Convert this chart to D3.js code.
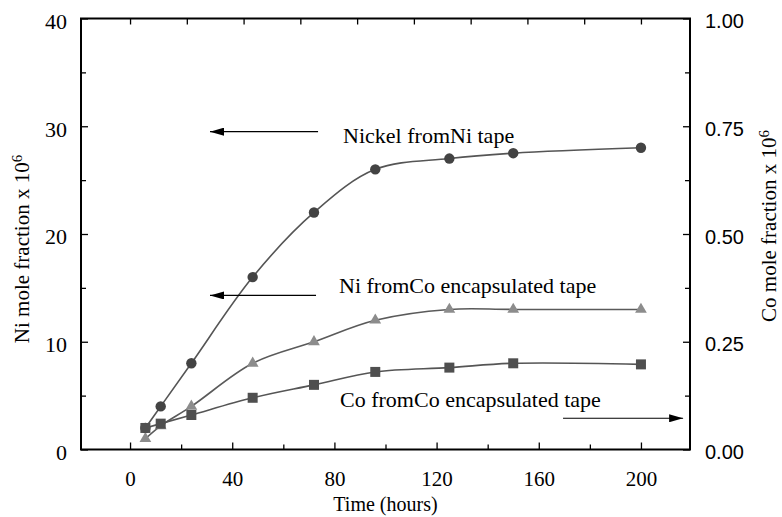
<html>

<script src="https://d3js.org/d3.v7.min.js"></script>

<style>
    body { margin: 0; background: #fff; }
    svg { display: block; }
    .serif { font-family: "Liberation Serif", "Times New Roman", serif; }
    .sans { font-family: "Liberation Sans", Arial, sans-serif; }
</style>

<svg width=782 height=517></svg>

<script>

    // data (time in hours, Ni mole fraction x 10^6 on left axis)
    let hours = [6, 12, 24, 48, 72, 96, 125, 150, 200];
    let niFromNi = [2, 4, 8, 16, 22, 26, 27, 27.5, 28];
    let niFromCo = [1, 2.2, 4, 8, 10, 12, 13, 13, 13];
    let coFromCo = [2, 2.4, 3.2, 4.8, 6, 7.2, 7.6, 8, 7.9];

    let xTicks = [0, 40, 80, 120, 160, 200];
    let xMinor = [20, 60, 100, 140, 180];
    let topTicks = d3.range(10).map(i => 200 * i / 9);
    let yTicks = [0, 10, 20, 30, 40];
    let yMinor = [5, 15, 25, 35];
    let y2Ticks = [0, 0.25, 0.5, 0.75, 1];
    let y2Minor = [0.125, 0.375, 0.625, 0.875];

    // annotation labels + arrows, in data units
    let notes = [
        { text: 'Nickel fromNi tape', tx: 83.4, ty: 28.4, ax0: 73.6, ax1: 31.3, ay: 29.5 },
        { text: 'Ni fromCo encapsulated tape', tx: 81.8, ty: 14.5, ax0: 72.8, ax1: 31.3, ay: 14.3 },
        { text: 'Co fromCo encapsulated tape', tx: 82.2, ty: 3.95, ax0: 169.5, ax1: 216.5, ay: 2.9 }
    ];

    let svg = d3.select('svg'),
        margin = { top: 18.5, right: 92, bottom: 67.5, left: 81 },
        width = +svg.attr('width') - margin.left - margin.right,
        height = +svg.attr('height') - margin.top - margin.bottom;

    let g = svg.append('g')
        .attr('transform', 'translate(' + margin.left + ',' + margin.top + ')');

    let x = d3.scaleLinear().domain([-19.2, 219.2]).range([0, width]);
    let y = d3.scaleLinear().domain([0, 40]).range([height, 0]);
    let y2 = d3.scaleLinear().domain([0, 1]).range([height, 0]);

    svg.append('defs').append('marker')
        .attr('id', 'arrow')
        .attr('viewBox', '0 0 14 8')
        .attr('refX', 14).attr('refY', 4)
        .attr('markerWidth', 14).attr('markerHeight', 8)
        .attr('markerUnits', 'userSpaceOnUse')
        .attr('orient', 'auto')
      .append('path')
        .attr('d', 'M0,0L14,4L0,8Z')
        .attr('fill', '#000');

    function styleAxis(sel) {
        sel.select('.domain').remove();
        sel.selectAll('line').attr('stroke', '#000').attr('stroke-width', 1.3);
    }

    // minor ticks (inward, no labels)
    g.append('g').attr('transform', 'translate(0,' + height + ')')
        .call(d3.axisBottom(x).tickValues(xMinor).tickSize(-5).tickFormat(''))
        .call(styleAxis);
    g.append('g')
        .call(d3.axisLeft(y).tickValues(yMinor).tickSize(-5).tickFormat(''))
        .call(styleAxis);
    g.append('g').attr('transform', 'translate(' + width + ',0)')
        .call(d3.axisRight(y2).tickValues(y2Minor).tickSize(-5).tickFormat(''))
        .call(styleAxis);
    g.append('g')
        .call(d3.axisTop(x).tickValues(topTicks).tickSize(-6).tickFormat(''))
        .call(styleAxis);

    // major axes
    let xAxis = g.append('g').attr('transform', 'translate(0,' + height + ')')
        .call(d3.axisBottom(x).tickValues(xTicks).tickSizeInner(-7).tickSizeOuter(0).tickPadding(22))
        .call(styleAxis);
    xAxis.selectAll('text').attr('class', 'serif').attr('font-size', 21).attr('fill', '#000');

    let yAxis = g.append('g')
        .call(d3.axisLeft(y).tickValues(yTicks).tickSizeInner(-7).tickSizeOuter(0).tickPadding(14))
        .call(styleAxis);
    yAxis.selectAll('text').attr('class', 'serif').attr('font-size', 22).attr('fill', '#000').attr('dy', '0.45em');

    let y2Axis = g.append('g').attr('transform', 'translate(' + width + ',0)')
        .call(d3.axisRight(y2).tickValues(y2Ticks).tickFormat(d3.format('.2f')).tickSizeInner(-7).tickSizeOuter(0).tickPadding(15))
        .call(styleAxis);
    y2Axis.selectAll('text').attr('class', 'sans').attr('font-size', 20).attr('fill', '#000').attr('dy', '0.45em');

    // frame
    g.append('rect')
        .attr('width', width).attr('height', height)
        .attr('fill', 'none').attr('stroke', '#000').attr('stroke-width', 2);

    // series
    let series = [
        { values: niFromNi, shape: d3.symbolCircle, size: 85, fill: '#434343', stroke: '#555' },
        { values: niFromCo, shape: d3.symbolTriangle, size: 60, fill: '#8c8c8c', stroke: '#5a5a5a' },
        { values: coFromCo, shape: d3.symbolSquare, size: 100, fill: '#4f4f4f', stroke: '#555' }
    ];

    let line = d3.line()
        .x((d, i) => x(hours[i]))
        .y(d => y(d))
        .curve(d3.curveCatmullRom.alpha(0.5));

    series.forEach(s => {
        g.append('path')
            .attr('d', line(s.values))
            .attr('fill', 'none')
            .attr('stroke', s.stroke)
            .attr('stroke-width', 1.6);
    });

    series.forEach(s => {
        g.selectAll(null)
            .data(s.values)
          .enter()
            .append('path')
            .attr('transform', (d, i) => 'translate(' + x(hours[i]) + ',' + y(d) + ')')
            .attr('d', d3.symbol().type(s.shape).size(s.size))
            .attr('fill', s.fill);
    });

    // annotations
    notes.forEach(n => {
        g.append('text')
            .attr('class', 'serif')
            .attr('x', x(n.tx)).attr('y', y(n.ty))
            .attr('font-size', 22)
            .text(n.text);
        g.append('line')
            .attr('x1', x(n.ax0)).attr('x2', x(n.ax1))
            .attr('y1', y(n.ay)).attr('y2', y(n.ay))
            .attr('stroke', '#000').attr('stroke-width', 1.2)
            .attr('marker-end', 'url(#arrow)');
    });

    // axis titles
    svg.append('text')
        .attr('class', 'serif')
        .attr('text-anchor', 'middle')
        .attr('x', margin.left + width / 2).attr('y', 511)
        .attr('font-size', 20)
        .text('Time (hours)');

    let yt = svg.append('text')
        .attr('class', 'serif')
        .attr('text-anchor', 'middle')
        .attr('font-size', 21)
        .attr('transform', 'translate(29,249) rotate(-90)');
    yt.append('tspan').text('Ni mole fraction x 10');
    yt.append('tspan').attr('dy', '-0.45em').attr('font-size', 15).text('6');

    let y2t = svg.append('text')
        .attr('class', 'serif')
        .attr('text-anchor', 'middle')
        .attr('font-size', 21)
        .attr('transform', 'translate(776,226) rotate(-90)');
    y2t.append('tspan').text('Co mole fraction x 10');
    y2t.append('tspan').attr('dy', '-0.45em').attr('font-size', 15).text('6');

</script>
</html>
